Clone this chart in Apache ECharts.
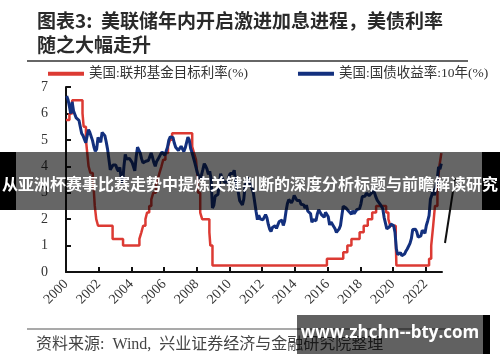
<!DOCTYPE html>
<html>
<head>
<meta charset="utf-8">
<script src="https://cdn.jsdelivr.net/npm/echarts@6/dist/echarts.min.js"></script>
<style>html,body{margin:0;padding:0;background:#fff}#c{width:500px;height:362px}</style>
</head>
<body>
<div id="c"></div>
<script>
// ---- data ----
const xTickYears = [2000, 2002, 2004, 2006, 2008, 2010, 2012, 2014, 2016, 2018, 2020, 2022];
const yTickValues = [0, 1, 2, 3, 4, 5, 6, 7];
const seriesNames = ['美国:联邦基金目标利率(%)', '美国:国债收益率:10年(%)'];

// Fed funds target rate: decimal year of each change, and new level
const fedChangeYears = [2000.00, 2000.21, 2000.38, 2001.01, 2001.08, 2001.22, 2001.30, 2001.38, 2001.49, 2001.64,
  2001.71, 2001.76, 2001.85, 2001.96, 2002.85, 2003.49, 2004.49, 2004.61, 2004.72, 2004.86,
  2004.96, 2005.09, 2005.22, 2005.34, 2005.50, 2005.61, 2005.72, 2005.84, 2005.95, 2006.08,
  2006.24, 2006.36, 2006.49, 2007.72, 2007.83, 2007.95, 2008.06, 2008.08, 2008.21, 2008.33,
  2008.77, 2008.83, 2008.96, 2015.96, 2016.96, 2017.21, 2017.46, 2017.96, 2018.21, 2018.46,
  2018.73, 2018.97, 2019.58, 2019.72, 2019.83, 2020.17, 2020.21, 2022.21, 2022.34, 2022.46,
  2022.57, 2022.72, 2022.84, 2022.96];
const fedRates = [5.75, 6.0, 6.5, 6.0, 5.5, 5.0, 4.5, 4.0, 3.75, 3.5,
  3.0, 2.5, 2.0, 1.75, 1.25, 1.0, 1.25, 1.5, 1.75, 2.0,
  2.25, 2.5, 2.75, 3.0, 3.25, 3.5, 3.75, 4.0, 4.25, 4.5,
  4.75, 5.0, 5.25, 4.75, 4.5, 4.25, 3.5, 3.0, 2.25, 2.0,
  1.5, 1.0, 0.25, 0.5, 0.75, 1.0, 1.25, 1.5, 1.75, 2.0,
  2.25, 2.5, 2.25, 2.0, 1.75, 1.25, 0.25, 0.5, 1.0, 1.75,
  2.5, 3.25, 4.0, 4.5];

// US 10Y Treasury yield, monthly from Jan 2000 to Dec 2022
const treasuryStartYear = 2000;
const treasury10y = [
  6.66, 6.52, 6.26, 5.99, 6.44, 6.10, 6.05, 5.83, 5.80, 5.74, 5.72, 5.24,
  5.16, 5.10, 4.89, 5.14, 5.39, 5.28, 5.24, 4.97, 4.73, 4.57, 4.65, 5.09,
  5.04, 4.91, 5.28, 5.21, 5.16, 4.93, 4.65, 4.26, 3.87, 3.94, 4.05, 4.03,
  4.05, 3.90, 3.81, 3.96, 3.57, 3.33, 3.98, 4.45, 4.27, 4.29, 4.30, 4.27,
  4.15, 4.08, 3.83, 4.35, 4.72, 4.73, 4.50, 4.28, 4.13, 4.10, 4.19, 4.23,
  4.22, 4.17, 4.50, 4.34, 4.14, 4.00, 4.18, 4.26, 4.20, 4.46, 4.54, 4.47,
  4.42, 4.57, 4.72, 4.99, 5.11, 5.11, 5.09, 4.88, 4.72, 4.73, 4.60, 4.56,
  4.76, 4.72, 4.56, 4.69, 4.75, 5.10, 5.00, 4.67, 4.52, 4.53, 4.15, 4.10,
  3.74, 3.74, 3.51, 3.68, 3.88, 4.10, 4.01, 3.89, 3.69, 3.81, 3.53, 2.42,
  2.52, 2.87, 2.82, 2.93, 3.29, 3.72, 3.56, 3.59, 3.40, 3.39, 3.40, 3.59,
  3.73, 3.69, 3.73, 3.85, 3.42, 3.20, 3.01, 2.70, 2.65, 2.54, 2.76, 3.29,
  3.39, 3.58, 3.41, 3.46, 3.17, 3.00, 3.00, 2.30, 1.98, 2.15, 2.01, 1.98,
  1.97, 1.97, 2.17, 2.05, 1.80, 1.62, 1.53, 1.68, 1.72, 1.75, 1.65, 1.72,
  1.91, 1.98, 1.96, 1.76, 1.93, 2.30, 2.58, 2.74, 2.81, 2.62, 2.72, 2.90,
  2.86, 2.71, 2.72, 2.71, 2.56, 2.60, 2.54, 2.42, 2.53, 2.30, 2.33, 2.21,
  1.88, 1.98, 2.04, 1.94, 2.20, 2.36, 2.32, 2.17, 2.17, 2.07, 2.26, 2.24,
  2.09, 1.78, 1.89, 1.81, 1.81, 1.64, 1.50, 1.56, 1.63, 1.76, 2.14, 2.49,
  2.43, 2.42, 2.48, 2.30, 2.30, 2.19, 2.32, 2.21, 2.20, 2.36, 2.35, 2.40,
  2.58, 2.86, 2.84, 2.87, 2.98, 2.91, 2.89, 2.89, 3.00, 3.15, 3.12, 2.83,
  2.71, 2.68, 2.57, 2.53, 2.40, 2.07, 2.06, 1.63, 1.70, 1.71, 1.81, 1.86,
  1.76, 1.50, 0.87, 0.66, 0.67, 0.73, 0.62, 0.65, 0.68, 0.79, 0.87, 0.93,
  1.08, 1.26, 1.61, 1.64, 1.62, 1.52, 1.32, 1.28, 1.37, 1.58, 1.56, 1.47,
  1.76, 1.93, 2.13, 2.75, 2.90, 3.14, 2.90, 2.90, 3.52, 3.98, 3.89, 4.10
];

const titleLines = ['图表3:  美联储年内开启激进加息进程，美债利率', '随之大幅走升'];
const sourceText = '资料来源:  Wind,  兴业证券经济与金融研究院整理';
const bannerText = '从亚洲杯赛事比赛走势中提炼关键判断的深度分析标题与前瞻解读研究';
const watermarkText = 'www.zhchn--bty.com';

// ---- build ----
const fedData = fedChangeYears.map((x, i) => [x, fedRates[i]]);
const tsyData = treasury10y.map((v, i) => [treasuryStartYear + (i + 0.5) / 12, v]);

const serif = '"Liberation Serif", "Noto Sans CJK SC", serif';
const chart = echarts.init(document.getElementById('c'));
chart.setOption({
  animation: false,
  backgroundColor: '#fff',
  grid: { left: 66, right: 58, top: 87, bottom: 90 },
  legend: {
    left: 48, top: 67, width: 452, itemWidth: 36, itemHeight: 4, itemGap: 50, icon: 'rect', padding: 0,
    textStyle: { fontFamily: serif, fontSize: 13.5, color: '#333' },
    data: seriesNames
  },
  xAxis: {
    type: 'value', min: 2000, max: 2023,
    axisLine: { show: true, lineStyle: { color: '#111', width: 2 } },
    axisTick: { show: true, inside: true, length: 5, lineStyle: { color: '#111', width: 2 }, customValues: xTickYears },
    axisLabel: { rotate: 45, margin: 10, fontFamily: serif, fontSize: 14, color: '#333', customValues: xTickYears,
      formatter: v => String(v) },
    splitLine: { show: false }
  },
  yAxis: {
    type: 'value', min: 0, max: 7, interval: 1,
    axisLine: { show: true, lineStyle: { color: '#111', width: 2 } },
    axisTick: { show: true, inside: true, length: 5, lineStyle: { color: '#111', width: 2 } },
    axisLabel: { margin: 18, fontFamily: serif, fontSize: 14, color: '#333' },
    splitLine: { show: false }
  },
  series: [
    { name: seriesNames[0], type: 'line', step: 'end', data: fedData, showSymbol: false,
      itemStyle: { color: '#dc3a33' }, lineStyle: { color: '#dc3a33', width: 2.5 } },
    { name: seriesNames[1], type: 'line', data: tsyData, showSymbol: false,
      itemStyle: { color: '#13307e' }, lineStyle: { color: '#13307e', width: 3 } }
  ],
  graphic: [
    { type: 'text', left: 37, top: 11, z: 50, style: { text: titleLines[0], font: 'bold 19px "Noto Sans CJK SC", serif', fill: '#2a2a2a' } },
    { type: 'text', left: 37, top: 35, z: 50, style: { text: titleLines[1], font: 'bold 19px "Noto Sans CJK SC", serif', fill: '#2a2a2a' } },
    { type: 'line', z: 50, shape: { x1: 27, y1: 61, x2: 468, y2: 61 }, style: { stroke: '#333', lineWidth: 1.5 } },
    { type: 'line', z: 50, shape: { x1: 27, y1: 329, x2: 468, y2: 329 }, style: { stroke: '#555', lineWidth: 1.2 } },
    { type: 'text', left: 36, top: 337, z: 50, style: { text: sourceText, font: '16px "Liberation Serif", "Noto Sans CJK SC", serif', fill: '#444' } },
    { type: 'line', z: 60, shape: { x1: 455, y1: 178, x2: 445, y2: 243 }, style: { stroke: '#111', lineWidth: 2 } },
    // banner overlay
    { type: 'rect', z: 100, shape: { x: 0, y: 152, width: 16, height: 58 }, style: { fill: '#000' } },
    { type: 'rect', z: 100, shape: { x: 482, y: 152, width: 18, height: 58 }, style: { fill: '#000' } },
    { type: 'rect', z: 100, shape: { x: 16, y: 152, width: 466, height: 58 }, style: { fill: 'rgba(0,0,0,0.6)' } },
    { type: 'text', z: 101, x: 250, y: 184, style: { text: bannerText, font: 'bold 16px "Noto Sans CJK SC", sans-serif', fill: '#fff', align: 'center', verticalAlign: 'middle' } },
    // watermark
    { type: 'rect', z: 100, shape: { x: 297, y: 315, width: 186, height: 39 }, style: { fill: 'rgba(0,0,0,0.62)' } },
    { type: 'rect', z: 100, shape: { x: 483, y: 315, width: 7, height: 39 }, style: { fill: '#000' } },
    { type: 'text', z: 101, x: 390, y: 333, style: { text: watermarkText, font: 'bold 17px "Open Sans", "DejaVu Sans", sans-serif', fill: '#fff', align: 'center', verticalAlign: 'middle' } }
  ]
});
</script>
</body>
</html>
